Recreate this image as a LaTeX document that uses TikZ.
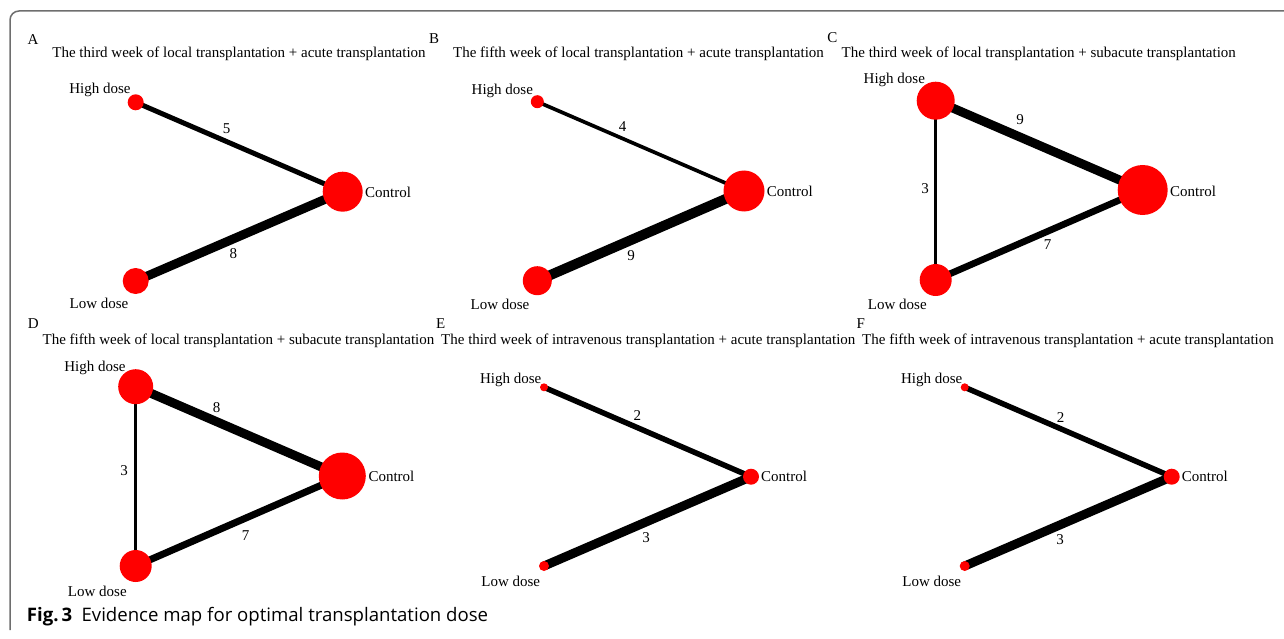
\documentclass[tikz,border=0pt]{standalone}
\usepackage{fontspec}
\setmainfont{Liberation Serif}
\newfontfamily\capfont{Open Sans}
\pgfdeclarelayer{bg}
\pgfsetlayers{bg,main}
\tikzset{
  vtx/.style={circle, fill=red, draw=none, inner sep=0pt, minimum size=#1},
  txt/.style={font=\fontsize{15}{15}\selectfont, inner sep=0pt},
  lblb/.style={txt, anchor=base},
  ctl/.style={txt, anchor=base west},
  num/.style={txt},
  ttl/.style={txt, anchor=base},
  edg/.style={line width=#1, black},
}
\begin{document}
\begin{tikzpicture}[x=1pt,y=-1pt]
\useasboundingbox (0,0) rectangle (1284,639);
\draw[color={rgb,255:red,110;green,110;blue,110}, line width=1.5pt, rounded corners=9pt] (10,630) -- (10,11) -- (1290,11);

% ---------- Panel A
\node[txt] (pA) at (33,40) {A};
\node[ttl] (tA) at (239,58) {The third week of local transplantation + acute transplantation};
\node[vtx=16] (aH) at (135.7,102.3) {};
\node[vtx=40] (aC) at (342.7,191.7) {};
\node[vtx=26] (aL) at (135.7,281) {};
\begin{pgfonlayer}{bg}
\draw[edg=5] (aH.center) -- (aC.center);
\draw[edg=9] (aL.center) -- (aC.center);
\end{pgfonlayer}
\node[lblb] (aHl) at (100,94) {High dose};
\node[lblb] (aLl) at (99,308) {Low dose};
\node[ctl] (aCl) at (365,197.5) {Control};
\node[num] (aN1) at (226.7,129) {5};
\node[num] (aN2) at (233.3,254) {8};

% ---------- Panel B
\node[txt] (pB) at (434,39) {B};
\node[ttl] (tB) at (638.5,58) {The fifth week of local transplantation + acute transplantation};
\node[vtx=13] (bH) at (537.3,101.7) {};
\node[vtx=41] (bC) at (744,191) {};
\node[vtx=29] (bL) at (537.3,280.7) {};
\begin{pgfonlayer}{bg}
\draw[edg=3.7] (bH.center) -- (bC.center);
\draw[edg=10] (bL.center) -- (bC.center);
\end{pgfonlayer}
\node[lblb] (bHl) at (502.3,95) {High dose};
\node[lblb] (bLl) at (500,309) {Low dose};
\node[ctl] (bCl) at (766.7,196.5) {Control};
\node[num] (bN1) at (622.7,126.7) {4};
\node[num] (bN2) at (631,255.7) {9};

% ---------- Panel C
\node[txt] (pC) at (832.3,37.7) {C};
\node[ttl] (tC) at (1038.8,58) {The third week of local transplantation + subacute transplantation};
\node[vtx=38] (cH) at (935.7,100.7) {};
\node[vtx=50] (cC) at (1142.7,190) {};
\node[vtx=32] (cL) at (935.7,280) {};
\begin{pgfonlayer}{bg}
\draw[edg=9] (cH.center) -- (cC.center);
\draw[edg=6.7] (cL.center) -- (cC.center);
\draw[edg=2.5] (cH.center) -- (cL.center);
\end{pgfonlayer}
\node[lblb] (cHl) at (894.3,84) {High dose};
\node[lblb] (cLl) at (897.3,309.3) {Low dose};
\node[ctl] (cCl) at (1170,196.5) {Control};
\node[num] (cN1) at (1020,120) {9};
\node[num] (cN2) at (1047.7,245) {7};
\node[num] (cN3) at (925,189) {3};

% ---------- Panel D
\node[txt] (pD) at (33.3,323.3) {D};
\node[ttl] (tD) at (238.5,344) {The fifth week of local transplantation + subacute transplantation};
\node[vtx=35] (dH) at (135.7,386.7) {};
\node[vtx=47] (dC) at (342.3,476) {};
\node[vtx=32] (dL) at (135.7,566) {};
\begin{pgfonlayer}{bg}
\draw[edg=9] (dH.center) -- (dC.center);
\draw[edg=7] (dL.center) -- (dC.center);
\draw[edg=2.5] (dH.center) -- (dL.center);
\end{pgfonlayer}
\node[lblb] (dHl) at (95,371) {High dose};
\node[lblb] (dLl) at (97.3,596) {Low dose};
\node[ctl] (dCl) at (368.3,481.5) {Control};
\node[num] (dN1) at (216.7,407.3) {8};
\node[num] (dN2) at (245.7,535.7) {7};
\node[num] (dN3) at (124,470.7) {3};

% ---------- Panel E
\node[txt] (pE) at (440.7,323.3) {E};
\node[ttl] (tE) at (648.3,344) {The third week of intravenous transplantation + acute transplantation};
\node[vtx=8] (eH) at (544,387.3) {};
\node[vtx=16] (eC) at (751,476.7) {};
\node[vtx=10] (eL) at (544,566) {};
\begin{pgfonlayer}{bg}
\draw[edg=5.5] (eH.center) -- (eC.center);
\draw[edg=9] (eL.center) -- (eC.center);
\end{pgfonlayer}
\node[lblb] (eHl) at (510.7,383.3) {High dose};
\node[lblb] (eLl) at (510.7,586.7) {Low dose};
\node[ctl] (eCl) at (761,481.7) {Control};
\node[num] (eN1) at (637.3,415.7) {2};
\node[num] (eN2) at (646,537.3) {3};

% ---------- Panel F
\node[txt] (pF) at (860.7,323.3) {F};
\node[ttl] (tF) at (1068,344) {The fifth week of intravenous transplantation + acute transplantation};
\node[vtx=8] (fH) at (964.7,387.3) {};
\node[vtx=16] (fC) at (1171.7,476.7) {};
\node[vtx=10] (fL) at (964.7,566) {};
\begin{pgfonlayer}{bg}
\draw[edg=5.5] (fH.center) -- (fC.center);
\draw[edg=9] (fL.center) -- (fC.center);
\end{pgfonlayer}
\node[lblb] (fHl) at (931.7,383.3) {High dose};
\node[lblb] (fLl) at (931.7,586.7) {Low dose};
\node[ctl] (fCl) at (1181.7,481.7) {Control};
\node[num] (fN1) at (1060.7,417.3) {2};
\node[num] (fN2) at (1060,540) {3};

% ---------- Caption
\node[anchor=base west, inner sep=0pt, font=\capfont\fontsize{18.6}{18.6}\selectfont] (cap) at (26.7,621)
  {\textbf{Fig.\,3}\hspace{0.5em}Evidence map for optimal transplantation dose};
\end{tikzpicture}
\end{document}
